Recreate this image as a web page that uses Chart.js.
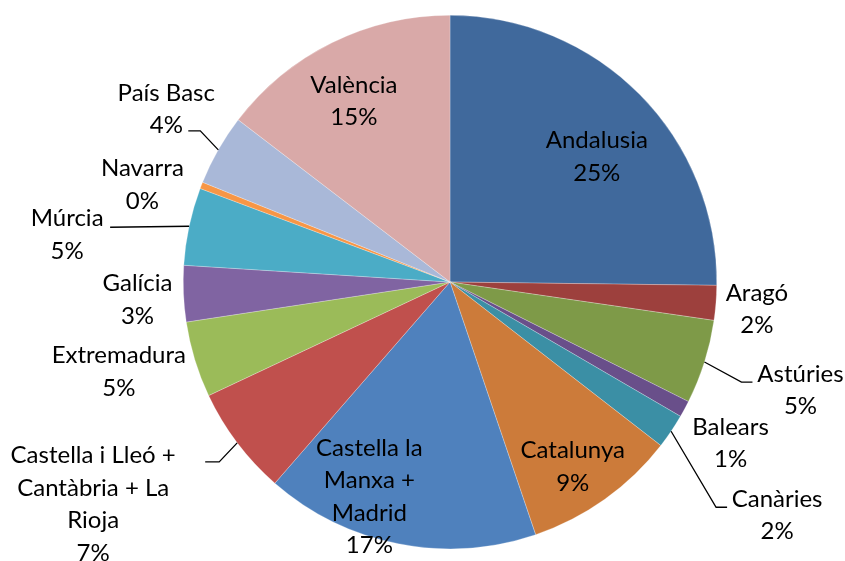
<!DOCTYPE html>
<html>
<head>
<meta charset="utf-8">
<script src="https://cdn.jsdelivr.net/npm/chart.js@4.4.0/dist/chart.umd.min.js"></script>
<style>
    html, body { margin: 0; padding: 0; background: #ffffff; }
    #contenidor { width: 845px; height: 561px; }
</style>
</head>
<body>
<div id="contenidor"><canvas id="graficoPastel" width="845" height="561"></canvas></div>
<script>
// Dades llegides del gràfic (percentatge de cada comunitat)
const comunitats = ['Andalusia', 'Aragó', 'Astúries', 'Balears', 'Canàries', 'Catalunya',
    'Castella la Manxa + Madrid', 'Castella i Lleó + Cantàbria + La Rioja', 'Extremadura',
    'Galícia', 'Múrcia', 'Navarra', 'País Basc', 'València'];
const percentatges = [25.2, 2.1, 5.1, 1.0, 2.1, 9.3, 16.6, 6.6, 4.6, 3.4, 4.7, 0.4, 4.3, 14.6];

const colors = ['#40699C', '#9D403D', '#7E9A48', '#694F8A', '#3B8FA5', '#CC7B3A',
    '#4F81BD', '#C0504D', '#9BBB59', '#8064A2', '#4BACC6', '#F79646', '#A9B8D8', '#D9A9A8'];

// Posició de cada etiqueta respecte al punt del perímetre a mig angle del sector
// guia: [colzeX, colzeY, finalX, finalY] relatius al centre de l'etiqueta
const posicioEtiquetes = [
    { dx: -43, dy: 62 },
    { dx: 41, dy: 6 },
    { dx: 96, dy: 28, guia: [-59, -8, -48, -8] },
    { dx: 46, dy: 34 },
    { dx: 106, dy: 84, guia: [-61, -8, -50, -8] },
    { dx: -32, dy: -33 },
    { dx: -29, dy: -47, ample: 150 },
    { dx: -144, dy: 61, ample: 200, guia: [126, -42, 112, -42] },
    { dx: -76, dy: 12 },
    { dx: -46, dy: 6 },
    { dx: -122, dy: 8, guia: [43, -7, 43, -7] },
    { dx: -59, dy: -1 },
    { dx: -52, dy: -41, guia: [34, 22, 22, 22] },
    { dx: 22, dy: 58 }
];

const FONT = '24px Lato';
const ALT_LINIA = 32.5;

function partirText(ctx, text, ample) {
    if (!ample) return [text];
    const paraules = text.split(' ');
    const linies = [];
    let actual = '';
    for (let p of paraules) {
        const prova = actual ? actual + ' ' + p : p;
        if (actual && ctx.measureText(prova).width > ample) {
            linies.push(actual);
            actual = p;
        } else {
            actual = prova;
        }
    }
    if (actual) linies.push(actual);
    return linies;
}

const etiquetesPlugin = {
    id: 'etiquetes',
    afterDatasetsDraw(chart) {
        const ctx = chart.ctx;
        const meta = chart.getDatasetMeta(0);
        const total = percentatges.reduce((a, b) => a + b, 0);
        ctx.save();
        ctx.font = FONT;
        ctx.fillStyle = '#000000';
        ctx.strokeStyle = '#000000';
        ctx.lineWidth = 1.3;
        ctx.textAlign = 'center';
        ctx.textBaseline = 'alphabetic';
        meta.data.forEach((arc, i) => {
            const p = arc.getProps(['x', 'y', 'startAngle', 'endAngle', 'outerRadius'], true);
            const mig = (p.startAngle + p.endAngle) / 2;
            const rx = p.x + Math.cos(mig) * p.outerRadius;
            const ry = p.y + Math.sin(mig) * p.outerRadius;
            const conf = posicioEtiquetes[i];
            const cx = rx + conf.dx;
            const cy = ry + conf.dy;

            const linies = partirText(ctx, comunitats[i], conf.ample);
            linies.push(Math.round(percentatges[i] / total * 100) + '%');
            const primera = cy - (linies.length - 1) * ALT_LINIA / 2;
            linies.forEach((l, j) => {
                ctx.fillText(l, cx, primera + j * ALT_LINIA + 8);
            });

            if (conf.guia) {
                const g = conf.guia;
                ctx.beginPath();
                ctx.moveTo(rx, ry);
                ctx.lineTo(cx + g[0], cy + g[1]);
                ctx.lineTo(cx + g[2], cy + g[3]);
                ctx.stroke();
            }
        });
        ctx.restore();
    }
};

const ctx = document.getElementById('graficoPastel').getContext('2d');
new Chart(ctx, {
    type: 'pie',
    data: {
        labels: comunitats,
        datasets: [{
            data: percentatges,
            backgroundColor: colors,
            borderColor: 'rgba(255, 255, 255, 0.5)',
            borderWidth: 0.5,
            hoverOffset: 0,
            offset: 0
        }]
    },
    options: {
        responsive: false,
        animation: false,
        layout: {
            padding: { left: 55, right: 0, top: 15, bottom: 12 }
        },
        plugins: {
            legend: { display: false },
            tooltip: { enabled: false }
        }
    },
    plugins: [etiquetesPlugin]
});
</script>
</body>
</html>
